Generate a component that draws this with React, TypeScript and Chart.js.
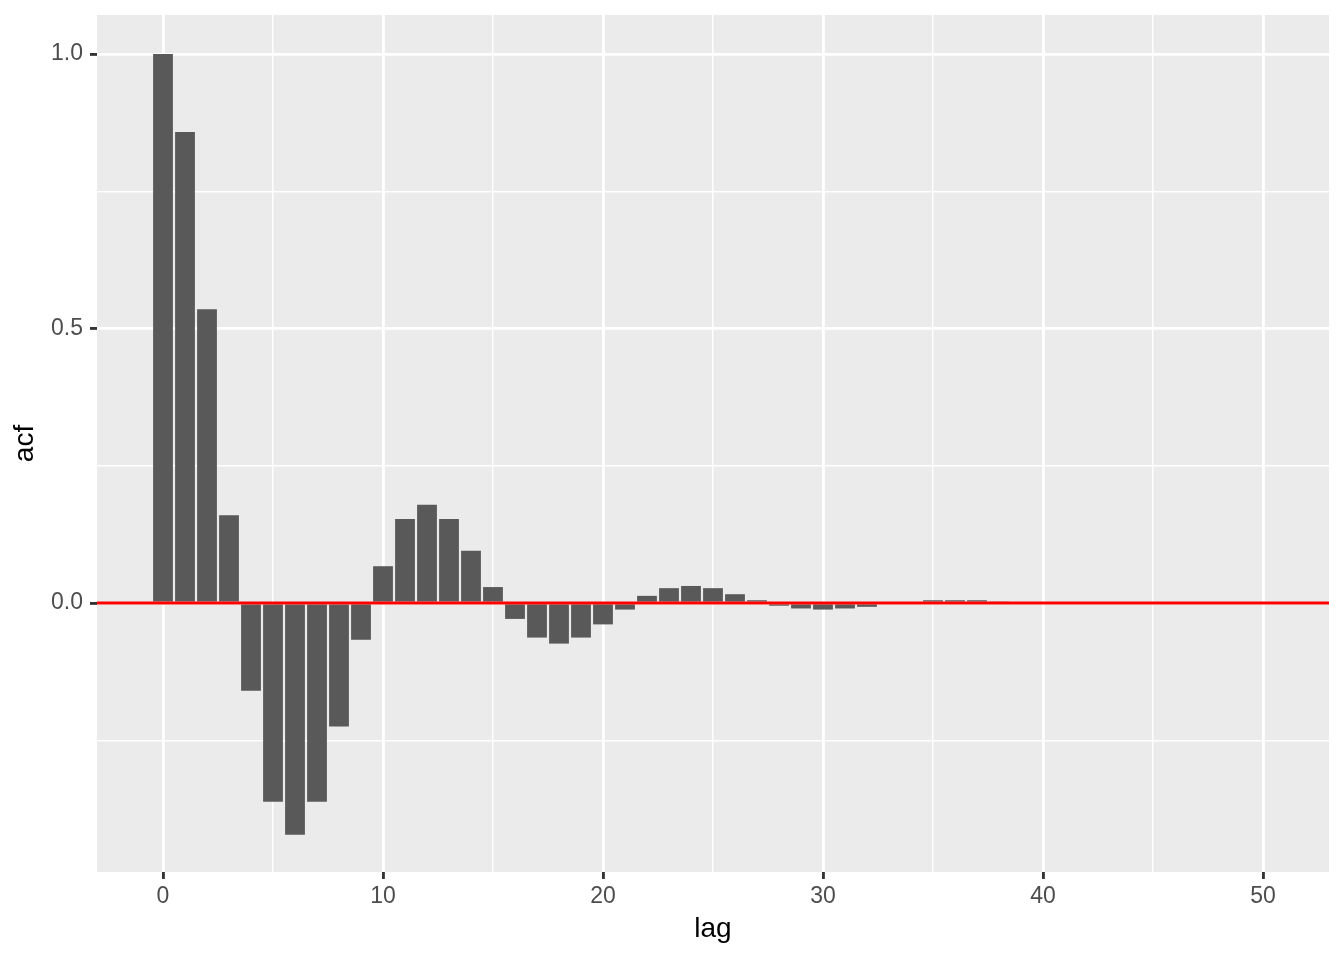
import React, { useEffect, useRef } from "react";
import { Chart, registerables } from "chart.js";

Chart.register(...registerables);

const lags: number[] = Array.from({ length: 51 }, (_, i) => i);
const acfValues: number[] = [
  1.0, 0.858, 0.535, 0.16, -0.16, -0.362, -0.422, -0.362, -0.225, -0.067,
  0.067, 0.153, 0.179, 0.153, 0.095, 0.029, -0.029, -0.063, -0.074, -0.063,
  -0.039, -0.012, 0.013, 0.027, 0.031, 0.027, 0.016, 0.005, -0.005, -0.01,
  -0.012, -0.01, -0.007, 0.0, 0.0, 0.005, 0.005, 0.005, 0.003, 0.0,
  0.0, 0.0, 0.0, 0.0, 0.0, 0.0, 0.0, 0.0, 0.0, 0.0, 0.0,
];
const xMajorTicks: number[] = [0, 10, 20, 30, 40, 50];
const xMinorTicks: number[] = [5, 15, 25, 35, 45];
const yMajorTicks: number[] = [0, 0.5, 1.0];
const yMinorTicks: number[] = [-0.25, 0.25, 0.75];
const refLineValue = 0;

const FONT = "'Liberation Sans', Arial, sans-serif";

export default function App() {
  const ref = useRef<HTMLCanvasElement | null>(null);

  useEffect(() => {
    if (!ref.current) return;
    const isMajorX = (v: number) => xMajorTicks.includes(v);
    const isMajorY = (v: number) => yMajorTicks.some((t) => Math.abs(t - v) < 1e-9);
    const tv = (c: any) => (c && c.tick ? Number(c.tick.value) : NaN);

    const panelBg = {
      id: "panelBg",
      beforeDraw(chart: any) {
        const { ctx, chartArea: a } = chart;
        ctx.save();
        ctx.fillStyle = "#EBEBEB";
        ctx.fillRect(a.left, a.top, a.right - a.left, a.bottom - a.top);
        ctx.restore();
      },
    };
    const refLine = {
      id: "refLine",
      afterDatasetsDraw(chart: any) {
        const { ctx, chartArea: a } = chart;
        const y = chart.scales.y.getPixelForValue(refLineValue);
        ctx.save();
        ctx.strokeStyle = "#FF0000";
        ctx.lineWidth = 2.85;
        ctx.beginPath();
        ctx.moveTo(a.left, y);
        ctx.lineTo(a.right, y);
        ctx.stroke();
        ctx.restore();
      },
    };

    const chart = new Chart(ref.current, {
      type: "bar",
      data: {
        datasets: [
          {
            data: lags.map((l, i) => ({ x: l, y: acfValues[i] })),
            backgroundColor: "#595959",
            borderWidth: 0,
            barPercentage: 0.9,
            categoryPercentage: 1.0,
          },
        ],
      },
      options: {
        animation: false,
        responsive: false,
        devicePixelRatio: 1,
        layout: { padding: { top: 15, right: 15, left: 0, bottom: 0 } },
        plugins: { legend: { display: false }, tooltip: { enabled: false } },
        scales: {
          x: {
            type: "linear",
            min: -3,
            max: 53,
            offset: false,
            afterBuildTicks: (s: any) => {
              s.ticks = [...xMajorTicks, ...xMinorTicks]
                .sort((a, b) => a - b)
                .map((v) => ({ value: v }));
            },
            afterFit: (s: any) => {
              s.height = 88;
              s.paddingLeft = 0;
              s.paddingRight = 0;
            },
            border: { display: false },
            grid: {
              offset: false,
              color: "#FFFFFF",
              lineWidth: (c: any) => (isMajorX(tv(c)) ? 2.85 : 1.42),
              drawTicks: true,
              tickLength: 7,
              tickColor: (c: any) => (isMajorX(tv(c)) ? "#333333" : "rgba(0,0,0,0)"),
              tickWidth: 2.85,
            },
            ticks: {
              autoSkip: false,
              maxRotation: 0,
              padding: 4,
              color: "#4D4D4D",
              font: { family: FONT, size: 23 },
              callback: (v: any) => (isMajorX(Number(v)) ? String(v) : ""),
            },
            title: {
              display: true,
              text: "lag",
              color: "#000000",
              font: { family: FONT, size: 28 },
              padding: { top: 0, bottom: 14 },
            },
          },
          y: {
            type: "linear",
            min: -0.49,
            max: 1.071,
            afterBuildTicks: (s: any) => {
              s.ticks = [...yMajorTicks, ...yMinorTicks]
                .sort((a, b) => a - b)
                .map((v) => ({ value: v }));
            },
            afterFit: (s: any) => {
              s.width = 97;
              s.paddingTop = 0;
              s.paddingBottom = 0;
            },
            border: { display: false },
            grid: {
              color: "#FFFFFF",
              lineWidth: (c: any) => (isMajorY(tv(c)) ? 2.85 : 1.42),
              drawTicks: true,
              tickLength: 7,
              tickColor: (c: any) => (isMajorY(tv(c)) ? "#333333" : "rgba(0,0,0,0)"),
              tickWidth: 2.85,
            },
            ticks: {
              padding: 7,
              color: "#4D4D4D",
              font: { family: FONT, size: 23 },
              callback: (v: any) => (isMajorY(Number(v)) ? Number(v).toFixed(1) : ""),
            },
            title: {
              display: true,
              text: "acf",
              color: "#000000",
              font: { family: FONT, size: 28 },
              padding: { top: 8, bottom: 0 },
            },
          },
        },
      },
      plugins: [panelBg, refLine],
    });
    return () => chart.destroy();
  }, []);

  return (
    <div style={{ position: "fixed", left: 0, top: 0, width: 1344, height: 960, background: "#FFFFFF" }}>
      <canvas ref={ref} width={1344} height={960} style={{ width: 1344, height: 960, display: "block" }} />
    </div>
  );
}
